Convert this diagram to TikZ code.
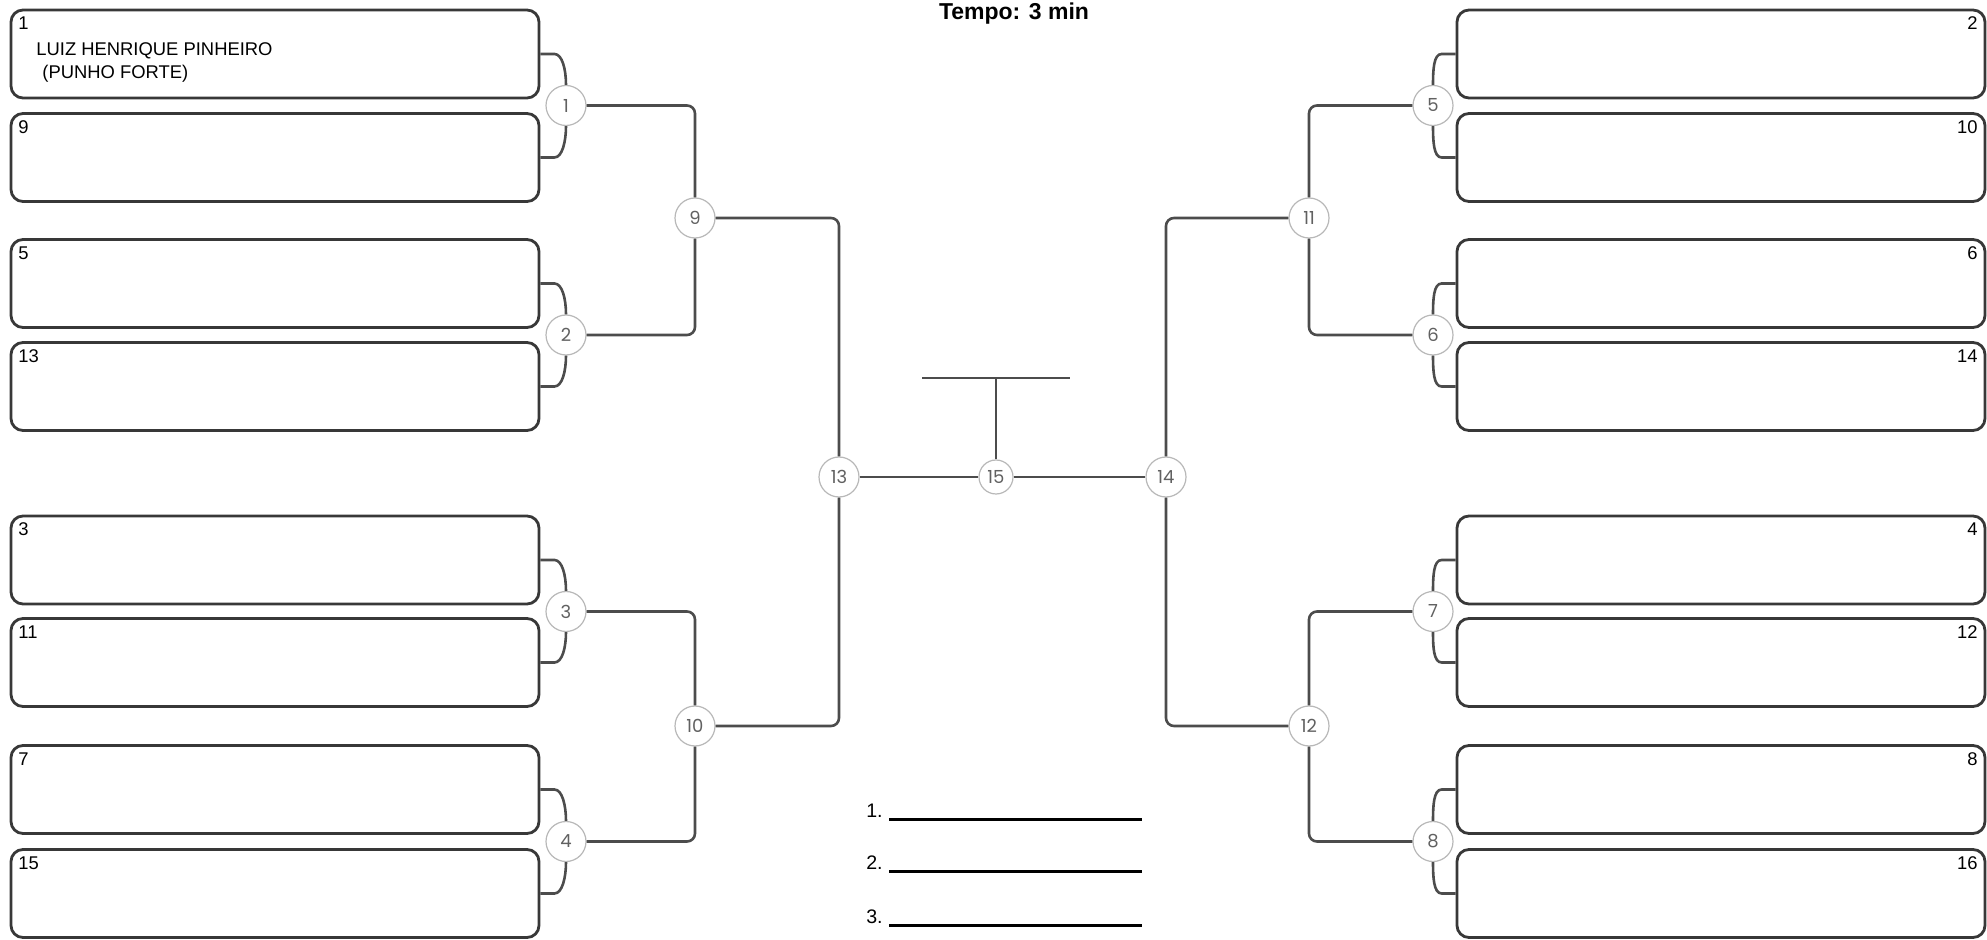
\documentclass[tikz,border=0pt]{standalone}
\usepackage{fontspec}
\setmainfont{Liberation Sans}
\newfontfamily\boutfont{Poppins}
\usepackage{tikz}
\usetikzlibrary{positioning}

\newcommand{\seedfont}{\fontsize{9.2}{11}\selectfont}
\newcommand{\placefont}{\fontsize{9.8}{12}\selectfont}
\newcommand{\headfont}{\fontsize{11.5}{14}\selectfont\bfseries}

\tikzset{
  entry/.style={draw=black!78, line width=1.4pt, rounded corners=6pt, fill=white,
    minimum width=264pt, minimum height=44pt, inner sep=0pt},
  bout/.style={circle, draw=black!28, line width=0.6pt, fill=white, inner sep=0pt,
    minimum size=20pt, text=black!62, font=\boutfont\fontsize{9}{10}\selectfont},
  finalbout/.style={bout, minimum size=17pt},
  seed/.style={font=\seedfont, inner sep=0pt},
  link/.style={draw=black!70, line width=1.3pt, rounded corners=4pt},
  brace/.style={draw=black!70, line width=1.3pt},
  podium/.style={draw=black, line width=1.5pt},
}

\begin{document}
\begin{tikzpicture}[x=0.5pt, y=-0.5pt]
  \useasboundingbox (0,0) rectangle (1987,940);

  % title
  \node[font=\headfont, anchor=base, inner sep=0pt] (title) at (1014,20) {Tempo: 3 min};

  % left entries
  \node[entry] (L1)  at (275,54)    {};
  \node[entry] (L9)  at (275,157.5) {};
  \node[entry] (L5)  at (275,283.5) {};
  \node[entry] (L13) at (275,386.5) {};
  \node[entry] (L3)  at (275,560)   {};
  \node[entry] (L11) at (275,662.5) {};
  \node[entry] (L7)  at (275,789.5) {};
  \node[entry] (L15) at (275,893.5) {};

  % right entries
  \node[entry] (R2)  at (1721,54)    {};
  \node[entry] (R10) at (1721,157.5) {};
  \node[entry] (R6)  at (1721,283.5) {};
  \node[entry] (R14) at (1721,386.5) {};
  \node[entry] (R4)  at (1721,560)   {};
  \node[entry] (R12) at (1721,662.5) {};
  \node[entry] (R8)  at (1721,789.5) {};
  \node[entry] (R16) at (1721,893.5) {};

  % seed numbers
  \node[seed, anchor=base west] (s1)  at ([xshift=4.2pt,yshift=-10.5pt]L1.north west)  {1};
  \node[seed, anchor=base west] (s9)  at ([xshift=4.2pt,yshift=-10.5pt]L9.north west)  {9};
  \node[seed, anchor=base west] (s5)  at ([xshift=4.2pt,yshift=-10.5pt]L5.north west)  {5};
  \node[seed, anchor=base west] (s13) at ([xshift=4.2pt,yshift=-10.5pt]L13.north west) {13};
  \node[seed, anchor=base west] (s3)  at ([xshift=4.2pt,yshift=-10.5pt]L3.north west)  {3};
  \node[seed, anchor=base west] (s11) at ([xshift=4.2pt,yshift=-10.5pt]L11.north west) {11};
  \node[seed, anchor=base west] (s7)  at ([xshift=4.2pt,yshift=-10.5pt]L7.north west)  {7};
  \node[seed, anchor=base west] (s15) at ([xshift=4.2pt,yshift=-10.5pt]L15.north west) {15};
  \node[seed, anchor=base east] (s2)  at ([xshift=-4.2pt,yshift=-10.5pt]R2.north east)  {2};
  \node[seed, anchor=base east] (s10) at ([xshift=-4.2pt,yshift=-10.5pt]R10.north east) {10};
  \node[seed, anchor=base east] (s6)  at ([xshift=-4.2pt,yshift=-10.5pt]R6.north east)  {6};
  \node[seed, anchor=base east] (s14) at ([xshift=-4.2pt,yshift=-10.5pt]R14.north east) {14};
  \node[seed, anchor=base east] (s4)  at ([xshift=-4.2pt,yshift=-10.5pt]R4.north east)  {4};
  \node[seed, anchor=base east] (s12) at ([xshift=-4.2pt,yshift=-10.5pt]R12.north east) {12};
  \node[seed, anchor=base east] (s8)  at ([xshift=-4.2pt,yshift=-10.5pt]R8.north east)  {8};
  \node[seed, anchor=base east] (s16) at ([xshift=-4.2pt,yshift=-10.5pt]R16.north east) {16};

  % athlete in entry 1
  \node[seed, anchor=base west] (name1) at ([xshift=13.2pt,yshift=-23.7pt]L1.north west) {LUIZ HENRIQUE PINHEIRO};
  \node[seed, anchor=base west] (name2) at ([xshift=16.2pt,yshift=-35.2pt]L1.north west) {(PUNHO FORTE)};

  % bouts
  \node[bout] (c1)  at (566,105.5) {1};
  \node[bout] (c2)  at (566,335)   {2};
  \node[bout] (c3)  at (566,611.5) {3};
  \node[bout] (c4)  at (566,841.5) {4};
  \node[bout] (c9)  at (695,218)   {9};
  \node[bout] (c10) at (695,726)   {10};
  \node[bout] (c13) at (839,477)   {13};
  \node[finalbout] (c15) at (996,477) {15};
  \node[bout] (c14) at (1166,477)  {14};
  \node[bout] (c11) at (1309,218)  {11};
  \node[bout] (c12) at (1309,726)  {12};
  \node[bout] (c5)  at (1433,105.5) {5};
  \node[bout] (c6)  at (1433,335)   {6};
  \node[bout] (c7)  at (1433,611.5) {7};
  \node[bout] (c8)  at (1433,841.5) {8};

  % entries into first bouts
  \draw[brace] (L1.east)  -- ++(14,0) .. controls +(8,0) and +(0,-15) .. (c1.north);
  \draw[brace] (L9.east)  -- ++(14,0) .. controls +(8,0) and +(0,15)  .. (c1.south);
  \draw[brace] (L5.east)  -- ++(14,0) .. controls +(8,0) and +(0,-15) .. (c2.north);
  \draw[brace] (L13.east) -- ++(14,0) .. controls +(8,0) and +(0,15)  .. (c2.south);
  \draw[brace] (L3.east)  -- ++(14,0) .. controls +(8,0) and +(0,-15) .. (c3.north);
  \draw[brace] (L11.east) -- ++(14,0) .. controls +(8,0) and +(0,15)  .. (c3.south);
  \draw[brace] (L7.east)  -- ++(14,0) .. controls +(8,0) and +(0,-15) .. (c4.north);
  \draw[brace] (L15.east) -- ++(14,0) .. controls +(8,0) and +(0,15)  .. (c4.south);
  \draw[brace] (R2.west)  -- ++(-14,0) .. controls +(-8,0) and +(0,-15) .. (c5.north);
  \draw[brace] (R10.west) -- ++(-14,0) .. controls +(-8,0) and +(0,15)  .. (c5.south);
  \draw[brace] (R6.west)  -- ++(-14,0) .. controls +(-8,0) and +(0,-15) .. (c6.north);
  \draw[brace] (R14.west) -- ++(-14,0) .. controls +(-8,0) and +(0,15)  .. (c6.south);
  \draw[brace] (R4.west)  -- ++(-14,0) .. controls +(-8,0) and +(0,-15) .. (c7.north);
  \draw[brace] (R12.west) -- ++(-14,0) .. controls +(-8,0) and +(0,15)  .. (c7.south);
  \draw[brace] (R8.west)  -- ++(-14,0) .. controls +(-8,0) and +(0,-15) .. (c8.north);
  \draw[brace] (R16.west) -- ++(-14,0) .. controls +(-8,0) and +(0,15)  .. (c8.south);

  % winners move on
  \draw[link] (c1.east) -| (c9.north);
  \draw[link] (c2.east) -| (c9.south);
  \draw[link] (c3.east) -| (c10.north);
  \draw[link] (c4.east) -| (c10.south);
  \draw[link] (c9.east) -| (c13.north);
  \draw[link] (c10.east) -| (c13.south);
  \draw[link] (c5.west) -| (c11.north);
  \draw[link] (c6.west) -| (c11.south);
  \draw[link] (c7.west) -| (c12.north);
  \draw[link] (c8.west) -| (c12.south);
  \draw[link] (c11.west) -| (c14.north);
  \draw[link] (c12.west) -| (c14.south);
  \draw[link] (c13) -- (c15);
  \draw[link] (c15) -- (c14);

  % final stand
  \coordinate (standL) at (922,378);
  \coordinate (standR) at (1070,378);
  \draw[link] (standL) -- (standR);
  \draw[link] (c15.north) -- (c15.north |- standL);

  % places
  \node[font=\placefont, anchor=base east, inner sep=0pt] (p1) at (883,817) {1.};
  \node[font=\placefont, anchor=base east, inner sep=0pt] (p2) at (883,869) {2.};
  \node[font=\placefont, anchor=base east, inner sep=0pt] (p3) at (883,923) {3.};
  \coordinate[right=3pt of p1.base east] (p1a);
  \coordinate[right=3pt of p2.base east] (p2a);
  \coordinate[right=3pt of p3.base east] (p3a);
  \draw[podium] ([yshift=-1pt]p1a) -- ++(253,0);
  \draw[podium] ([yshift=-1pt]p2a) -- ++(253,0);
  \draw[podium] ([yshift=-1pt]p3a) -- ++(253,0);
\end{tikzpicture}
\end{document}
